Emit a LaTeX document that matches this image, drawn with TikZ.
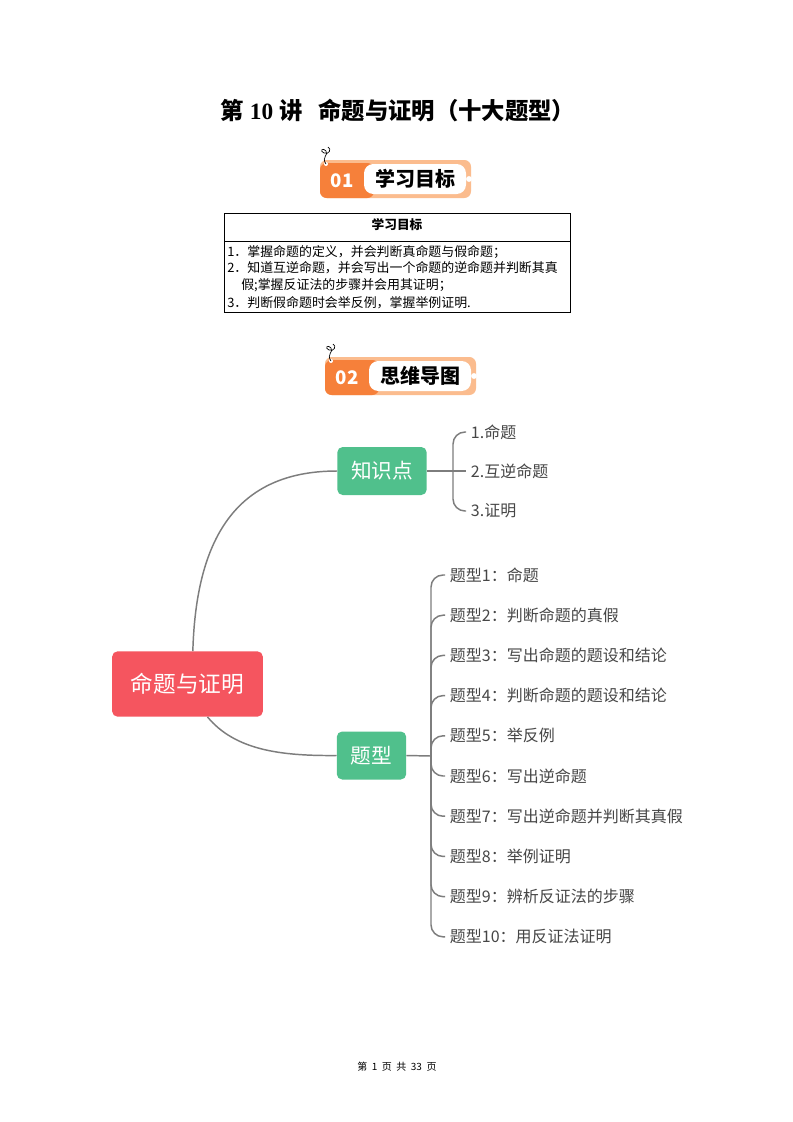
\documentclass[tikz,border=0pt]{standalone}
\usepackage{fontspec}
\setmainfont{Liberation Serif}
\newfontfamily\cjk{Noto Sans CJK SC}
\usepackage{tikz}

\definecolor{rootred}{RGB}{245,85,95}
\definecolor{topicgreen}{RGB}{80,192,140}
\definecolor{linegray}{RGB}{125,125,125}
\definecolor{textgray}{RGB}{70,70,70}
\definecolor{badgedark}{RGB}{246,128,58}
\definecolor{badgelight}{RGB}{251,188,142}

\begin{document}
\begin{tikzpicture}[x=0.75pt, y=-0.75pt,
    root/.style={fill=rootred, rounded corners=4pt, text=white,
        minimum width=113pt, minimum height=49pt, font=\cjk\fontsize{17}{20}\selectfont},
    topic/.style={fill=topicgreen, rounded corners=4pt, text=white,
        minimum height=36pt, font=\cjk\fontsize{15.5}{18}\selectfont},
    leaf/.style={anchor=west, inner sep=3.5pt, text=textgray,
        font=\cjk\fontsize{12}{14}\selectfont},
    branch/.style={draw=linegray, line width=1.1pt},
    goal/.style={anchor=west, inner sep=0pt, font=\cjk\fontsize{9.7}{11}\selectfont}]
    \useasboundingbox (0,0) rectangle (793,1122);
    \fill[white] (0,0) rectangle (793,1122);

    % title
    \node[font=\bfseries\fontsize{17.5}{21}\selectfont] (title) at (398,110)
        {{\cjk\bfseries 第} 10 {\cjk\bfseries 讲\ \ \ 命题与证明（十大题型）}};

    % section badges
    \foreach \bx/\by/\num/\txt in {320/160/01/学习目标, 325/357/02/思维导图}{
        \fill[badgelight, rounded corners=5pt] (\bx,\by) rectangle ++(151,38);
        \fill[badgedark, rounded corners=5pt] (\bx,\by+3) rectangle ++(54,35);
        \fill[white, rounded corners=7pt] (\bx+44,\by+4) rectangle ++(102,30);
        \fill[white] (\bx+149,\by+19) circle (2.2pt);
        \fill[white] (\bx+6,\by+4) circle (1.5pt);
        \draw[line width=0.5pt] (\bx+6,\by+4) .. controls (\bx+1,\by-3) and (\bx+9,\by-5) .. (\bx+6,\by-9)
            .. controls (\bx+3,\by-13) and (\bx-1,\by-9) .. (\bx+4,\by-7)
            .. controls (\bx+9,\by-5) and (\bx+12,\by-11) .. (\bx+8,\by-13);
        \node[text=white, font=\cjk\bfseries\fontsize{14}{16}\selectfont] (num\num) at (\bx+22,\by+21) {\num};
        \node[font=\cjk\bfseries\fontsize{15}{18}\selectfont] (badge\num) at (\bx+95,\by+19) {\txt};
    }

    % goals table
    \draw[line width=0.6pt] (224,213) rectangle (570,312);
    \draw[line width=0.6pt] (224,241) -- (570,241);
    \node[font=\cjk\bfseries\fontsize{9.5}{11}\selectfont] (goalhead) at (397,225) {学习目标};
    \node[goal] (goal1) at (227,252) {1．掌握命题的定义，并会判断真命题与假命题；};
    \node[goal] (goal2) at (227,268) {2．知道互逆命题，并会写出一个命题的逆命题并判断其真};
    \node[goal] (goal2b) at (241,285) {假;掌握反证法的步骤并会用其证明；};
    \node[goal] (goal3) at (227,303) {3．判断假命题时会举反例，掌握举例证明.};

    % mind map
    \node[root] (root) at (187.5,684) {命题与证明};
    \node[topic, minimum width=67pt] (points) at (382,471) {知识点};
    \node[topic, minimum width=52pt] (types) at (371.5,755.5) {题型};

    \draw[branch] ([xshift=4pt]root.north) .. controls (196,540) and (235,471) .. (points.west);
    \draw[branch] ([xshift=15pt]root.south) .. controls (235,750) and (280,756) .. (types.west);

    \node[leaf] (pt1) at (466,432) {1.命题};
    \node[leaf] (pt2) at (466,471) {2.互逆命题};
    \node[leaf] (pt3) at (466,511) {3.证明};
    \coordinate (pthub) at (453,471);
    \draw[branch] (points.east) -- (pthub);
    \draw[branch, rounded corners=9pt] (pthub) |- (pt1.west);
    \draw[branch] (pthub) -- (pt2.west);
    \draw[branch, rounded corners=9pt] (pthub) |- (pt3.west);

    \coordinate (typehub) at (431,756);
    \draw[branch] (types.east) -- (typehub);
    \foreach \i/\txt in {1/命题, 2/判断命题的真假, 3/写出命题的题设和结论,
        4/判断命题的题设和结论, 5/举反例, 6/写出逆命题, 7/写出逆命题并判断其真假,
        8/举例证明, 9/辨析反证法的步骤, 10/用反证法证明}{
        \node[leaf] (type\i) at (445,{575+40.2*(\i-1)}) {题型\i：\txt};
        \draw[branch, rounded corners=9pt] (typehub) |- (type\i.west);
    }

    % footer
    \node[font=\cjk\fontsize{7.5}{9}\selectfont] (footer) at (397,1067) {第\ \ 1\ \ 页\ \ 共\ \ 33\ \ 页};
\end{tikzpicture}
\end{document}
